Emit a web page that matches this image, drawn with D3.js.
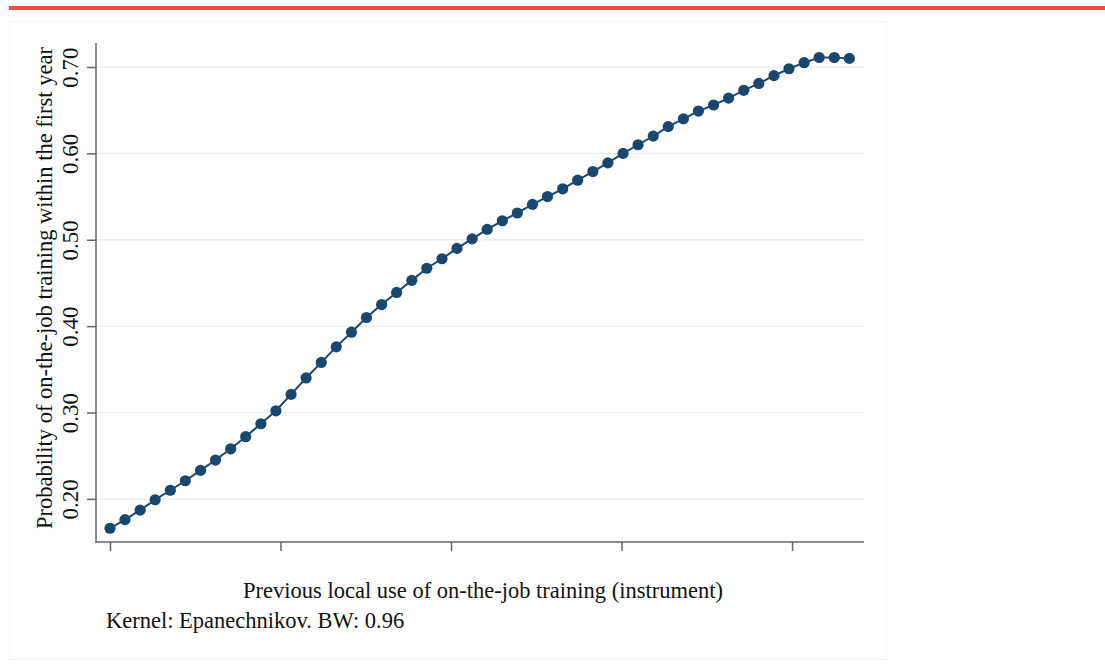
<!DOCTYPE html>
<html>
<head>
<meta charset="utf-8">
<script src="https://cdn.jsdelivr.net/npm/d3@7"></script>
<style>
  body { margin: 0; background: #fff; }
  text { font-family: "Liberation Serif", "Times New Roman", serif; fill: #111; }
</style>
</head>
<body>
<div id="chart"></div>
<script>
// local use of OJT (instrument) vs probability of OJT in the first year
var instrument = [0, 0.0088, 0.0177, 0.0265, 0.0354, 0.0442, 0.0531, 0.0619, 0.0708, 0.0796,
  0.0885, 0.0973, 0.1062, 0.1150, 0.1239, 0.1327, 0.1416, 0.1504, 0.1593, 0.1681,
  0.1770, 0.1858, 0.1947, 0.2035, 0.2124, 0.2212, 0.2301, 0.2389, 0.2478, 0.2566,
  0.2655, 0.2743, 0.2832, 0.2920, 0.3009, 0.3097, 0.3186, 0.3274, 0.3363, 0.3451,
  0.3540, 0.3628, 0.3717, 0.3805, 0.3894, 0.3982, 0.4071, 0.4159, 0.4248, 0.4336];
var prob = [0.166, 0.176, 0.187, 0.199, 0.210, 0.221, 0.233, 0.245, 0.258, 0.272,
  0.287, 0.302, 0.321, 0.340, 0.358, 0.376, 0.393, 0.410, 0.425, 0.439,
  0.453, 0.467, 0.478, 0.490, 0.501, 0.512, 0.522, 0.531, 0.541, 0.550,
  0.559, 0.569, 0.579, 0.589, 0.600, 0.610, 0.620, 0.631, 0.640, 0.649,
  0.656, 0.664, 0.673, 0.681, 0.690, 0.698, 0.705, 0.711, 0.711, 0.710];
var yTicks = [0.2, 0.3, 0.4, 0.5, 0.6, 0.7];
var xTicks = [0, 0.1, 0.2, 0.3, 0.4];

var xTitle = 'Previous local use of on-the-job training (instrument)';
var yTitle = 'Probability of on-the-job training within the first year';
var note = 'Kernel: Epanechnikov. BW: 0.96';

var svg_width = 1105, svg_height = 668;
var plot_left = 96, plot_right = 864, plot_top = 43, plot_bottom = 542;
var navy = '#1a476f';

var svg = d3.select('#chart')
  .append('svg')
  .attr('width', svg_width)
  .attr('height', svg_height);

// red strip on top
svg.append('rect')
  .attr('x', 9).attr('y', 6)
  .attr('width', svg_width - 9).attr('height', 4)
  .attr('fill', '#f24c38');

// card
svg.append('rect')
  .attr('x', 9.5).attr('y', 21.5)
  .attr('width', 877).attr('height', 638)
  .attr('fill', '#fff')
  .attr('stroke', '#f2f2f2');

var x = d3.scaleLinear().domain([-0.0082, 0.4422]).range([plot_left, plot_right]);
var y = d3.scaleLinear().domain([0.1501, 0.7278]).range([plot_bottom, plot_top]);

// grid
svg.append('g')
  .selectAll('line')
  .data(yTicks)
  .join('line')
  .attr('x1', plot_left).attr('x2', plot_right)
  .attr('y1', function(d) { return y(d); })
  .attr('y2', function(d) { return y(d); })
  .attr('stroke', '#eaf0f1')
  .attr('stroke-width', 1.5);

// y axis
var yAxis = svg.append('g')
  .attr('transform', 'translate(' + plot_left + ',0)')
  .call(d3.axisLeft(y).tickValues(yTicks).tickSize(9).tickFormat(d3.format('.2f')));
yAxis.select('.domain').attr('d', 'M0,' + plot_top + 'V' + (plot_bottom + 1));
yAxis.selectAll('line').attr('stroke', '#666').attr('stroke-width', 1.5);
yAxis.select('.domain').attr('stroke', '#666').attr('stroke-width', 1.5);
// rotated tick labels, reading bottom to top
yAxis.selectAll('.tick text')
  .attr('font-size', 23)
  .attr('font-family', '"Liberation Serif", serif')
  .attr('fill', '#111')
  .attr('text-anchor', 'middle')
  .attr('x', null)
  .attr('dy', null)
  .attr('y', null)
  .attr('transform', 'translate(-18,0) rotate(-90)');

// x axis, ticks only
var xAxis = svg.append('g')
  .attr('transform', 'translate(0,' + plot_bottom + ')')
  .call(d3.axisBottom(x).tickValues(xTicks).tickSize(9).tickFormat(''));
xAxis.select('.domain').attr('d', 'M' + plot_left + ',0H' + plot_right);
xAxis.selectAll('line').attr('stroke', '#666').attr('stroke-width', 1.5);
xAxis.select('.domain').attr('stroke', '#666').attr('stroke-width', 1.5);

// line + markers
var pts = instrument.map(function(d, i) { return [d, prob[i]]; });
svg.append('path')
  .datum(pts)
  .attr('fill', 'none')
  .attr('stroke', navy)
  .attr('stroke-width', 2)
  .attr('d', d3.line().x(function(d) { return x(d[0]); }).y(function(d) { return y(d[1]); }));

svg.append('g')
  .selectAll('circle')
  .data(pts)
  .join('circle')
  .attr('cx', function(d) { return x(d[0]); })
  .attr('cy', function(d) { return y(d[1]); })
  .attr('r', 5.6)
  .attr('fill', navy);

// titles
svg.append('text')
  .attr('x', 483).attr('y', 598)
  .attr('text-anchor', 'middle')
  .attr('font-size', 22.5)
  .text(xTitle);

svg.append('text')
  .attr('transform', 'translate(52,288) rotate(-90)')
  .attr('text-anchor', 'middle')
  .attr('font-size', 22.5)
  .text(yTitle);

svg.append('text')
  .attr('x', 106).attr('y', 628)
  .attr('font-size', 22.5)
  .text(note);
</script>
</body>
</html>
